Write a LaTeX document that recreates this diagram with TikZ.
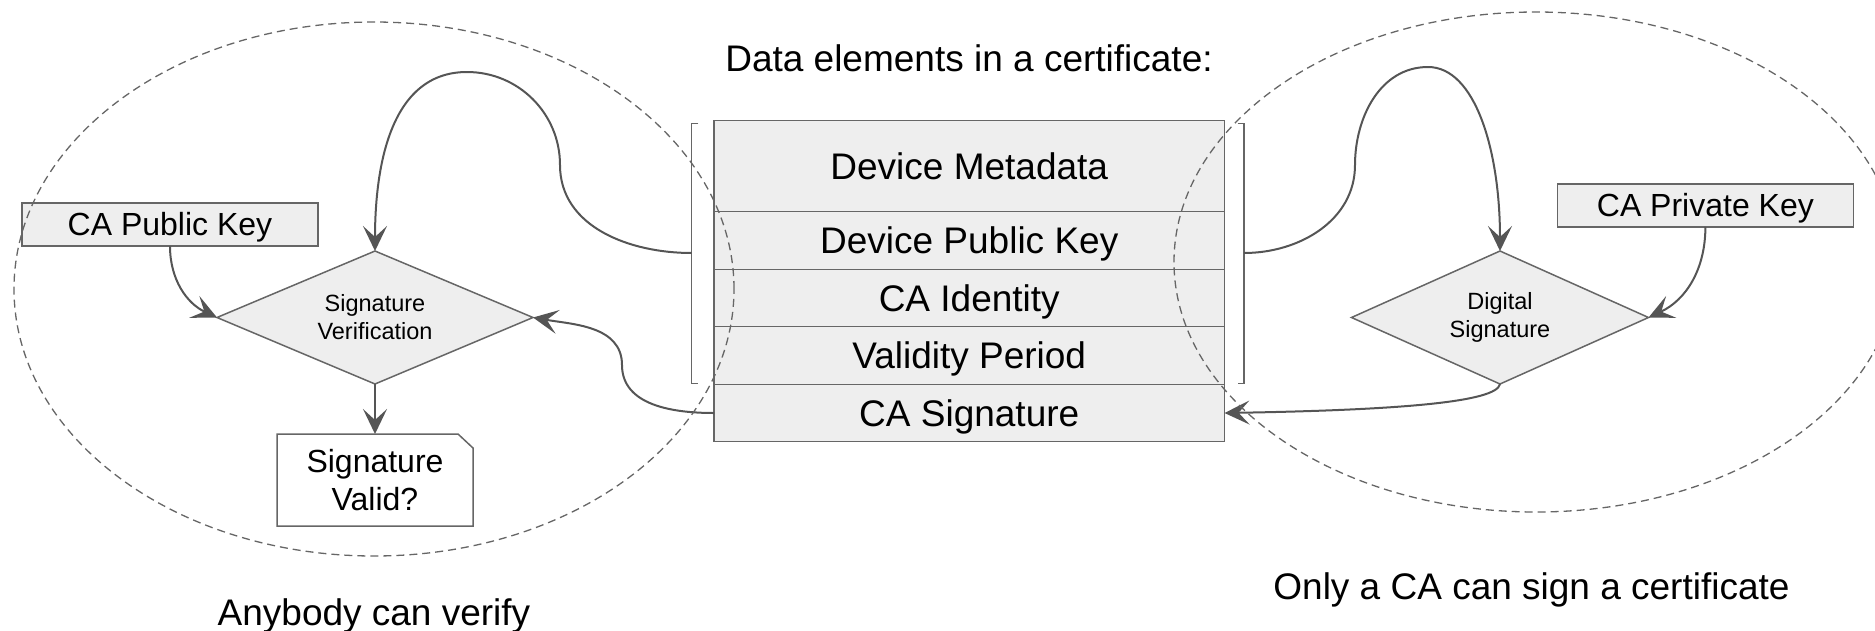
\documentclass[tikz,border=0pt]{standalone}
\usepackage{fontspec}
\setmainfont{Liberation Sans}
\usetikzlibrary{arrows.meta,shapes.geometric}
\definecolor{boxfill}{HTML}{EEEEEE}
\definecolor{boxline}{HTML}{666666}
\definecolor{connc}{HTML}{555555}
\begin{document}
\begin{tikzpicture}[x=1pt,y=1pt,
  big/.style={font=\fontsize{37}{44}\selectfont},
  row/.style={draw=boxline, fill=boxfill, line width=1.5pt, minimum width=510.5pt,
    inner sep=0pt, outer sep=0pt, big, text height=26.5pt, text depth=0pt},
  dia/.style={diamond, draw=boxline, fill=boxfill, line width=1.5pt, inner sep=0pt,
    outer sep=0pt, align=center, font=\fontsize{23.5}{28}\selectfont},
  keybox/.style={draw=boxline, fill=boxfill, line width=1.5pt, minimum width=296pt,
    minimum height=43pt, inner sep=0pt, outer sep=0pt,
    font=\fontsize{32}{38}\selectfont, text height=22.9pt, text depth=0pt},
  conn/.style={draw=connc, line width=2pt, -{Stealth[length=25pt,width=24pt,inset=11pt]}},
  ell/.style={draw=boxline, line width=1.3pt, dash pattern=on 8pt off 5pt},
  brk/.style={draw=boxline, line width=1.5pt},
  lbl/.style={big, text height=26.5pt, text depth=0pt, inner sep=0pt}
]
\useasboundingbox (0,0) rectangle (1875,-630);

% title
\node[lbl] (title) at (969,-58.5) {Data elements in a certificate:};

% certificate rows
\node[row, minimum height=91pt]   (meta)  at (969.25,-166.2) {Device Metadata};
\node[row, minimum height=57.6pt] (dpk)   at (969.25,-240.5) {Device Public Key};
\node[row, minimum height=57.4pt] (caid)  at (969.25,-298)   {CA Identity};
\node[row, minimum height=57.6pt] (valp)  at (969.25,-355.5) {Validity Period};
\node[row, minimum height=57.4pt] (casig) at (969.25,-413)   {CA Signature};

% brackets
\draw[brk] (698.4,-123.3) -- (691.5,-123.3) -- (691.5,-383.3) -- (698.4,-383.3);
\draw[brk] (1237.5,-123.3) -- (1244,-123.3) -- (1244,-383.3) -- (1237.5,-383.3);
\coordinate (lb) at (691.5,-253);
\coordinate (rb) at (1244,-253);

% left side
\node[keybox] (pub) at (170,-224.5) {CA Public Key};
\node[dia, shape aspect=2.38, minimum width=316pt, minimum height=133pt] (vd) at (375,-317.5) {Signature\\Verification};
\node[minimum width=196pt, minimum height=92pt, inner sep=0pt, outer sep=0pt, align=center,
  font=\fontsize{32}{38}\selectfont] (sv) at (375,-480) {Signature\\Valid?};
\draw[boxline, line width=1.5pt] (sv.north west) -- ([xshift=-15pt]sv.north east)
  -- ([yshift=-14pt]sv.north east) -- (sv.south east) -- (sv.south west) -- cycle;

% right side
\node[keybox] (priv) at (1705.4,-205.5) {CA Private Key};
\node[dia, shape aspect=2.23, minimum width=297pt, minimum height=133pt] (dd) at (1500,-317.5) {Digital\\Signature};

% connectors
\draw[conn] (lb) to[out=180,in=270] (560,-165) to[out=90,in=0] (467,-72)
  .. controls (388,-72) and (375,-172) .. (vd.north);
\draw[conn] (rb) to[out=0,in=270] (1355,-165) to[out=90,in=180] (1428,-67)
  .. controls (1475,-67) and (1500,-150) .. (dd.north);
\draw[conn] (pub.south) to[out=270,in=155] (vd.west);
\draw[conn] (priv.south) to[out=270,in=25] (dd.east);
\draw[conn] (vd.south) -- (vd.south |- sv.north);
\draw[conn] (casig.west) to[out=180,in=270] (622,-365) to[out=90,in=-10] (vd.east);
\draw[conn] (dd.south) .. controls (1497,-402) and (1400,-410) .. (casig.east);

% dashed groups
\draw[ell] (374,-289) ellipse [x radius=360, y radius=267];
\draw[ell] (1536,-262) ellipse [x radius=362, y radius=250];

% captions
\node[lbl] (lbl1) at (374,-612) {Anybody can verify};
\node[lbl] (lbl2) at (1531.5,-586) {Only a CA can sign a certificate};
\end{tikzpicture}
\end{document}
